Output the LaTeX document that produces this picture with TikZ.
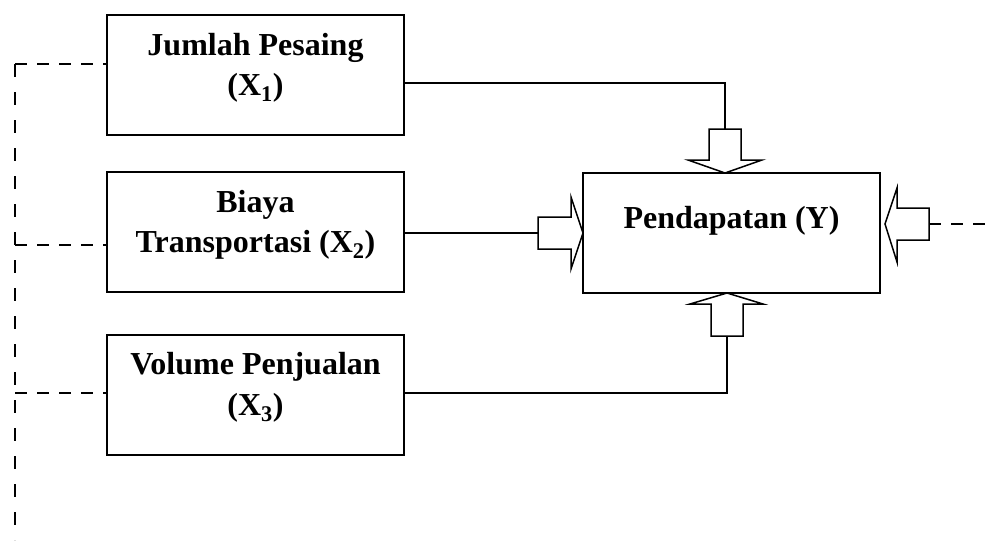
\documentclass[tikz,border=0pt]{standalone}
\usepackage{fontspec}
\setmainfont{Liberation Serif}
\begin{document}
\begin{tikzpicture}[x=1pt,y=-1pt,
  box/.style={draw, line width=1.6pt, minimum width=297pt, minimum height=120pt, inner sep=0pt},
  lbl/.style={font=\fontsize{32}{40}\selectfont\bfseries, anchor=base, inner sep=0pt},
  link/.style={line width=1.5pt},
  hdash/.style={line width=1.3pt, dash pattern=on 12pt off 10pt},
  vdash/.style={line width=1.3pt, dash pattern=on 13pt off 15pt},
  blockarrow/.style={draw, fill=white, line width=1.5pt, line join=miter}]
\useasboundingbox (0,0) rectangle (985,554);

% boxes
\node[box] (x1) at (255.5,75) {};
\node[lbl] (x1a) at (255.5,55) {Jumlah Pesaing};
\node[lbl] (x1b) at (255.5,95) {(X\textsubscript{1})};

\node[box] (x2) at (255.5,232) {};
\node[lbl] (x2a) at (255.5,212) {Biaya};
\node[lbl] (x2b) at (255.5,252) {Transportasi (X\textsubscript{2})};

\node[box] (x3) at (255.5,395) {};
\node[lbl] (x3a) at (255.5,374) {Volume Penjualan};
\node[lbl] (x3b) at (255.5,415) {(X\textsubscript{3})};

\node[box] (y) at (731.5,233) {};
\node[lbl] (ya) at (731.5,228) {Pendapatan (Y)};

% block arrows
\draw[blockarrow] (709,129) -- (741,129) -- (741,160) -- (762,160) -- (725,173) -- (688,160) -- (709,160) -- cycle;
\coordinate (ta) at (725,129);
\draw[blockarrow] (538,217) -- (571,217) -- (571,197) -- (583,233) -- (571,269) -- (571,249) -- (538,249) -- cycle;
\coordinate (la) at (538,233);
\draw[blockarrow] (929,208) -- (897,208) -- (897,188) -- (885,224) -- (897,262) -- (897,240) -- (929,240) -- cycle;
\coordinate (ra) at (929,224);
\coordinate (re) at (985,224);
\draw[blockarrow] (711,336) -- (743,336) -- (743,304) -- (763,304) -- (727,293) -- (690,304) -- (711,304) -- cycle;
\coordinate (ba) at (727,336);

% connectors
\draw[link] ([yshift=-8pt]x1.east) -| (ta);
\draw[link] (x2.east |- la) -- (la);
\draw[link] ([yshift=2pt]x3.east) -| (ba);
\draw[hdash] (ra) -- (re);

% dashed left frame
\coordinate (lt) at (15,64);
\coordinate (lb) at (15,540);
\draw[vdash] (lt) -- (lb);
\draw[hdash] (lt) -- ([yshift=11pt]x1.west);
\draw[hdash] (lt |- 0,245) -- ([yshift=-13pt]x2.west);
\draw[hdash] (lt |- 0,393) -- ([yshift=2pt]x3.west);
\end{tikzpicture}
\end{document}
